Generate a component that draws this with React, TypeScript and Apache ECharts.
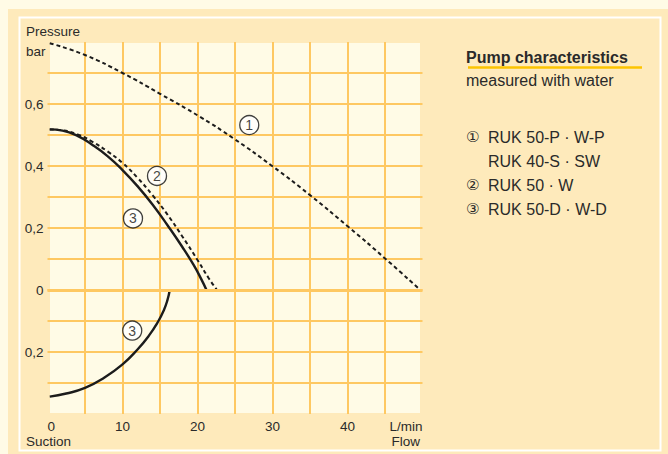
import React, { useEffect, useRef } from "react";
import * as echarts from "echarts";

// ---- data ----
const curve1: number[][] = [
  [0.3, 0.796], [5, 0.758], [10, 0.70], [15, 0.633], [20.3, 0.559], [24.8, 0.489],
  [29.9, 0.401], [35, 0.306], [40.1, 0.204], [45, 0.102], [49.7, 0],
];
const curve2: number[][] = [
  [0.3, 0.518], [2, 0.515], [4, 0.502], [6, 0.478], [8, 0.447], [10, 0.41], [12, 0.362],
  [14, 0.306], [16, 0.243], [18, 0.172], [20, 0.097], [21.5, 0.038], [22.6, 0],
];
const curve3: number[][] = [
  [0.3, 0.518], [2, 0.514], [4, 0.497], [6, 0.468], [8, 0.432], [10, 0.387], [12, 0.335],
  [14, 0.276], [16, 0.209], [18, 0.138], [19.5, 0.08], [20.5, 0.035], [21.2, 0],
];
const suction3: number[][] = [
  [0.3, -0.344], [2.5, -0.334], [5, -0.316], [7.5, -0.284], [10, -0.24], [12, -0.192],
  [13.5, -0.148], [14.7, -0.104], [15.5, -0.066], [16, -0.032], [16.3, 0],
];
const markerPoints: number[][] = [[26.9, 0.532], [14.6, 0.368], [11.4, 0.231], [11.3, -0.131]];
const markerLabels: string[] = ["1", "2", "3", "3"];

const xTickValues: number[] = [0, 10, 20, 30, 40, 50];
const xTickTexts: string[] = ["0", "10", "20", "30", "40", "L/min"];
const yTickValues: number[] = [0.6, 0.4, 0.2, 0, -0.2];
const yTickTexts: string[] = ["0,6", "0,4", "0,2", "0", "0,2"];

const titleText = "Pump characteristics";
const subtitleText = "measured with water";
const legendSymbols: string[] = ["①", "", "②", "③"];
const legendTexts: string[] = ["RUK 50-P · W-P", "RUK 40-S · SW", "RUK 50 · W", "RUK 50-D · W-D"];

// ---- styles ----
const PAGE_BG = "#fffbe6";
const PANEL_BG = "#feeabb";
const PLOT_BG = "#fffbe6";
const GRID = "#fec862";
const INK = "#1c1c1c";
const TEXT = "#2a2a2a";
const FONT = '"Liberation Sans", Arial, sans-serif';

export default function App() {
  const ref = useRef<HTMLDivElement>(null);
  useEffect(() => {
    if (!ref.current) return;
    const chart = echarts.init(ref.current, undefined, { renderer: "svg" });

    const yLineColors: string[] = [];
    for (let i = 0; i <= 12; i++) yLineColors.push(i === 0 || i === 12 ? "rgba(0,0,0,0)" : GRID);
    const xLineColors: string[] = [];
    for (let i = 0; i <= 10; i++) xLineColors.push(i === 0 || i === 10 ? "rgba(0,0,0,0)" : GRID);

    const axisFont = `13.5px ${FONT}`;
    const legendY = [137, 161, 185, 209];
    const graphics: any[] = [
      { type: "rect", z: -30, shape: { x: 8, y: 9, width: 660, height: 445 }, style: { fill: PANEL_BG } },
      { type: "rect", z: -29, shape: { x: 19.5, y: 17.5, width: 641, height: 433 }, style: { fill: "none", stroke: "#ffffff", lineWidth: 2 } },
      { type: "rect", z: -28, shape: { x: 50, y: 43, width: 370, height: 370 }, style: { fill: PLOT_BG } },
      { type: "text", x: 26, y: 31, style: { text: "Pressure", fill: TEXT, font: axisFont, textVerticalAlign: "middle", verticalAlign: "middle" } },
      { type: "text", x: 26, y: 51, style: { text: "bar", fill: TEXT, font: axisFont, textVerticalAlign: "middle", verticalAlign: "middle" } },
      { type: "text", x: 26, y: 441, style: { text: "Suction", fill: TEXT, font: axisFont, textVerticalAlign: "middle", verticalAlign: "middle" } },
      { type: "text", x: 420, y: 441, style: { text: "Flow", fill: TEXT, font: axisFont, textAlign: "right", align: "right", textVerticalAlign: "middle", verticalAlign: "middle" } },
      { type: "text", x: 466, y: 57, style: { text: titleText, fill: TEXT, font: `bold 16px ${FONT}`, textVerticalAlign: "middle", verticalAlign: "middle" } },
      { type: "line", shape: { x1: 468, y1: 67.5, x2: 642, y2: 67.5 }, style: { stroke: "#fcc400", lineWidth: 2.5 } },
      { type: "text", x: 466, y: 80.5, style: { text: subtitleText, fill: TEXT, font: `16px ${FONT}`, textVerticalAlign: "middle", verticalAlign: "middle" } },
    ];
    legendTexts.forEach((t, i) => {
      if (legendSymbols[i]) {
        graphics.push({ type: "text", x: 466, y: legendY[i], style: { text: legendSymbols[i], fill: TEXT, font: `15px "DejaVu Sans", "Noto Sans CJK SC", sans-serif`, textVerticalAlign: "middle", verticalAlign: "middle" } });
      }
      graphics.push({ type: "text", x: 488, y: legendY[i], style: { text: t, fill: TEXT, font: `16px ${FONT}`, textVerticalAlign: "middle", verticalAlign: "middle" } });
    });

    const lineBase = { type: "line", smooth: 0.5, showSymbol: false, symbol: "none", silent: true, z: 3 };

    chart.setOption({
      animation: false,
      backgroundColor: PAGE_BG,
      grid: { left: 47.5, top: 42, width: 375, height: 372, containLabel: false },
      xAxis: {
        type: "value", min: 0, max: 50, interval: 5,
        axisLine: { show: false }, axisTick: { show: false },
        splitLine: { show: true, lineStyle: { color: xLineColors, width: 2 } },
        axisLabel: {
          show: true, margin: 5, color: TEXT, fontFamily: FONT, fontSize: 13.5,
          alignMinLabel: "left", alignMaxLabel: "right",
          formatter: (v: number) => {
            const i = xTickValues.findIndex((t) => Math.abs(t - v) < 1e-6);
            return i >= 0 ? xTickTexts[i] : "";
          },
        },
      },
      yAxis: {
        type: "value", min: -0.4, max: 0.8, interval: 0.1,
        axisLine: { show: false }, axisTick: { show: false },
        splitLine: { show: true, lineStyle: { color: yLineColors, width: 2 } },
        axisLabel: {
          show: true, margin: 4, color: TEXT, fontFamily: FONT, fontSize: 13.5,
          showMinLabel: true, showMaxLabel: true,
          formatter: (v: number) => {
            const i = yTickValues.findIndex((t) => Math.abs(t - v) < 1e-6);
            return i >= 0 ? yTickTexts[i] : "";
          },
        },
      },
      graphic: graphics,
      series: [
        {
          type: "line", data: [], silent: true, z: 1,
          markLine: {
            silent: true, symbol: "none", label: { show: false },
            lineStyle: { color: GRID, width: 3, type: "solid" },
            data: [{ yAxis: 0 }],
          },
        },
        { ...lineBase, data: curve1, lineStyle: { color: INK, width: 2, type: [4, 3] } },
        { ...lineBase, data: curve2, lineStyle: { color: INK, width: 2, type: [4, 3] } },
        { ...lineBase, data: curve3, lineStyle: { color: INK, width: 2.4, type: "solid" } },
        { ...lineBase, data: suction3, lineStyle: { color: INK, width: 2.4, type: "solid" } },
        {
          type: "scatter", data: markerPoints, symbol: "circle", symbolSize: 19, silent: true, z: 5,
          itemStyle: { color: "#ffffff", borderColor: "#111111", borderWidth: 1.3 },
          label: {
            show: true, position: "inside", color: "#111111", fontFamily: FONT, fontSize: 14,
            formatter: (p: any) => markerLabels[p.dataIndex],
          },
        },
      ],
    });
    return () => chart.dispose();
  }, []);
  return (
    <div
      ref={ref}
      style={{ position: "fixed", left: 0, top: 0, width: 668, height: 454, background: PAGE_BG }}
    />
  );
}
